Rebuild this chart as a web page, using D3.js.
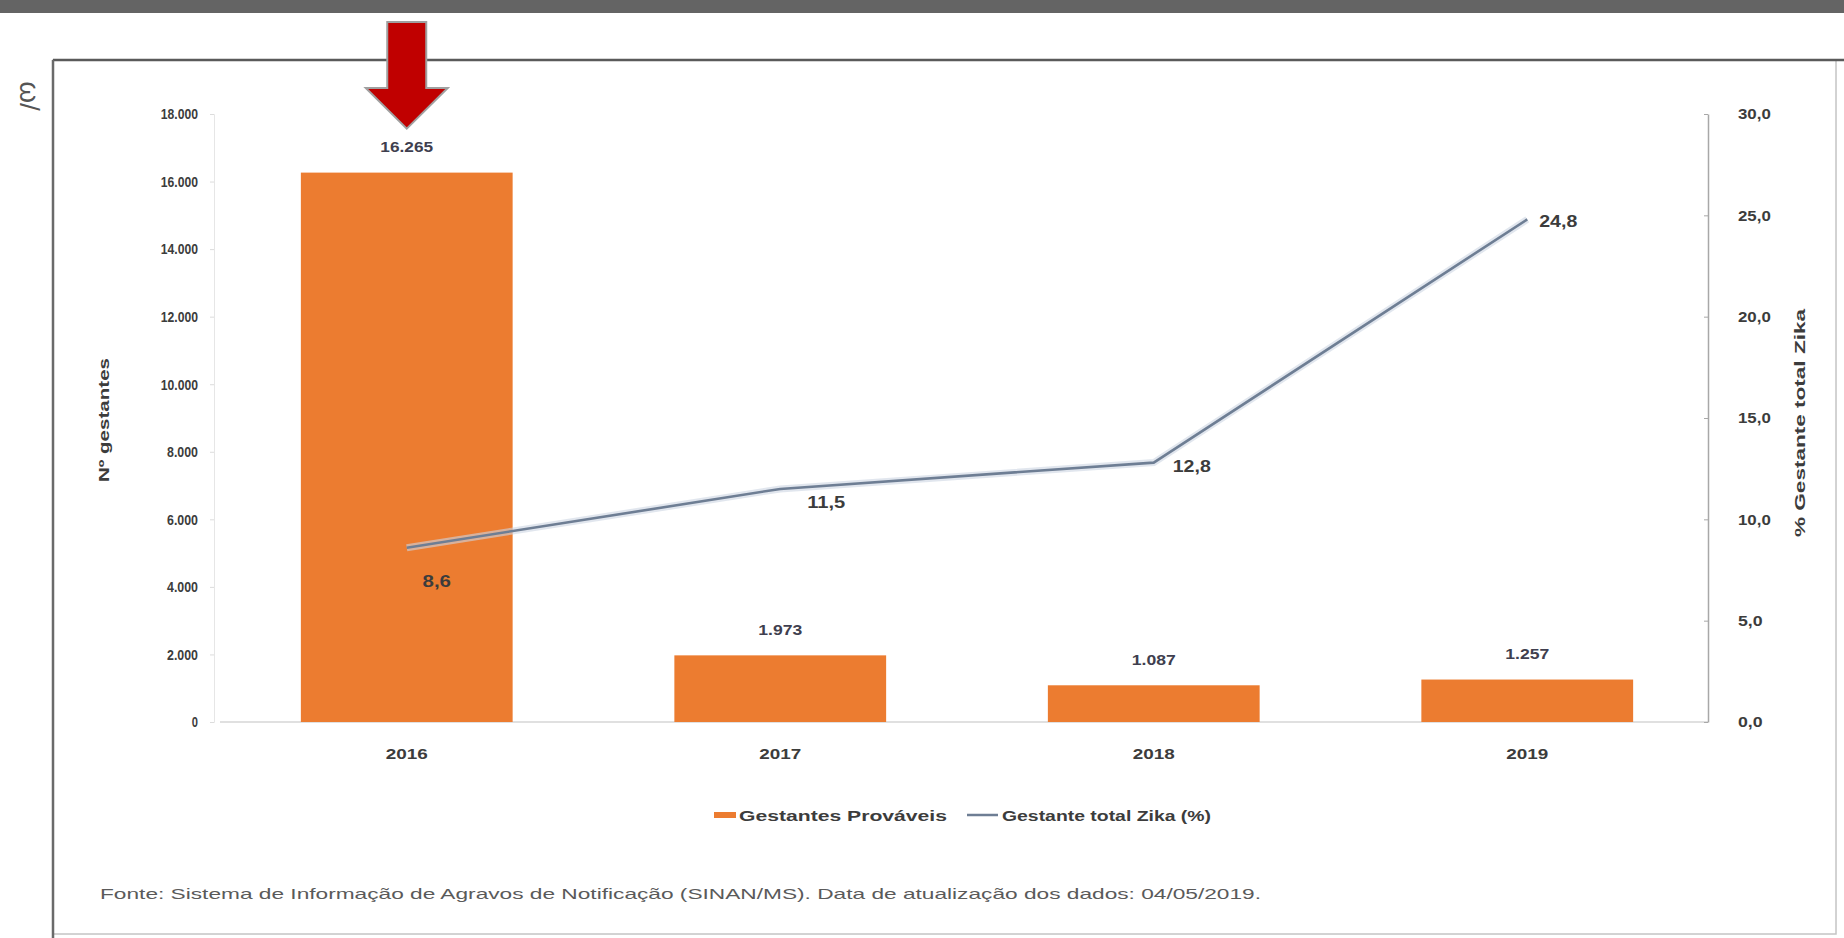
<!DOCTYPE html>
<html>
<head>
<meta charset="utf-8">
<script src="https://cdn.jsdelivr.net/npm/d3@7"></script>
<style>
  html, body { margin: 0; padding: 0; background: #ffffff; }
  svg { display: block; }
  text { font-family: "Liberation Sans Narrow", "Arial Narrow", "Liberation Sans", sans-serif; fill: #3c3c3c; }
</style>
</head>
<body>
<svg id="chart" width="1844" height="938"></svg>
<script>
// Gestantes prováveis por ano e percentual com Zika
const years = ["2016", "2017", "2018", "2019"];
const gestantes = [16265, 1973, 1087, 1257];
const pctZika = [8.6, 11.5, 12.8, 24.8];
const leftTicks = [0, 2000, 4000, 6000, 8000, 10000, 12000, 14000, 16000, 18000];
const rightTicks = [0, 5, 10, 15, 20, 25, 30];
const seriesNames = ["Gestantes Prováveis", "Gestante total Zika (%)"];
const leftTitle = "Nº gestantes";
const rightTitle = "% Gestante total Zika";
const sourceNote = "Fonte: Sistema de Informação de Agravos de Notificação (SINAN/MS). Data de atualização dos dados: 04/05/2019.";

const ptBR = d3.formatLocale({ decimal: ",", thousands: ".", grouping: [3], currency: ["R$", ""] });
const fmtInt = ptBR.format(",d");
const fmtPct = ptBR.format(",.1f");

const svg = d3.select("#chart");
const W = 1844, H = 938;

const ORANGE = "#EC7C30";
const LINE = "#6E7E94";

// condensed look: squeeze each label to a width proportional to its length
function squeeze(sel, perChar) {
  sel.attr("textLength", function () { return this.textContent.length * perChar; })
     .attr("lengthAdjust", "spacingAndGlyphs");
}

// page chrome: dark strip and frame
svg.append("rect").attr("x", 0).attr("y", 0).attr("width", W).attr("height", 13).attr("fill", "#646464");
svg.append("rect").attr("x", 53).attr("y", 60).attr("width", 1783).attr("height", 874)
  .attr("fill", "none").attr("stroke", "#c4c4c4").attr("stroke-width", 1.5);
svg.append("line").attr("x1", 53).attr("x2", W).attr("y1", 60).attr("y2", 60)
  .attr("stroke", "#5a5a5a").attr("stroke-width", 2.5);
svg.append("line").attr("x1", 53).attr("x2", 53).attr("y1", 60).attr("y2", H)
  .attr("stroke", "#6a6a6a").attr("stroke-width", 2.5);
svg.append("text").attr("transform", "translate(29,96) rotate(90)")
  .attr("text-anchor", "middle").attr("dominant-baseline", "central")
  .style("font-size", "28px").style("fill", "#555").text("ω/");

// scales
const x = d3.scaleBand().domain(years).range([220, 1714]).paddingInner(0.433).paddingOuter(0.2165);
const yL = d3.scaleLinear().domain([0, 18000]).range([722, 114]);
const yR = d3.scaleLinear().domain([0, 30]).range([722, 114]);

// baseline
svg.append("line").attr("x1", 220).attr("x2", 1708).attr("y1", yL(0)).attr("y2", yL(0))
  .attr("stroke", "#d6d6d6").attr("stroke-width", 1.5);

// left axis
const axL = svg.append("g").attr("transform", "translate(214,0)")
  .call(d3.axisLeft(yL).tickValues(leftTicks).tickFormat(fmtInt).tickSize(4).tickPadding(12));
axL.select(".domain").attr("stroke", "#e6e6e6");
axL.selectAll(".tick line").attr("stroke", "#dcdcdc");
axL.selectAll("text").style("font-size", "15px").style("font-weight", "bold").style("fill", "#3c3c3c")
  .call(squeeze, 6.2);

// right axis
const axR = svg.append("g").attr("transform", "translate(1708,0)")
  .call(d3.axisRight(yR).tickValues(rightTicks).tickFormat(fmtPct).tickSize(0).tickPadding(30));
axR.select(".domain").attr("stroke", "#a8a8a8").attr("stroke-width", 1.5);
axR.selectAll(".tick").append("line").attr("x1", -4).attr("x2", 0).attr("stroke", "#a8a8a8");
axR.selectAll("text").style("font-size", "15px").style("font-weight", "bold").style("fill", "#3c3c3c")
  .call(squeeze, 8.2);

// x axis
const axX = svg.append("g").attr("transform", `translate(0,${yL(0)})`)
  .call(d3.axisBottom(x).tickSize(0).tickPadding(26));
axX.select(".domain").remove();
axX.selectAll("text").style("font-size", "15px").style("font-weight", "bold").style("fill", "#3c3c3c")
  .call(squeeze, 10.5);

// axis titles
svg.append("text").attr("transform", "translate(103,420) rotate(-90)")
  .attr("text-anchor", "middle").attr("dominant-baseline", "central")
  .attr("textLength", 124).attr("lengthAdjust", "spacingAndGlyphs")
  .style("font-size", "15px").style("font-weight", "bold").text(leftTitle);
svg.append("text").attr("transform", "translate(1799,423) rotate(-90)")
  .attr("text-anchor", "middle").attr("dominant-baseline", "central")
  .attr("textLength", 228).attr("lengthAdjust", "spacingAndGlyphs")
  .style("font-size", "15px").style("font-weight", "bold").text(rightTitle);

// bars
svg.append("g").selectAll("rect").data(years).join("rect")
  .attr("x", d => x(d)).attr("width", x.bandwidth())
  .attr("y", (d, i) => yL(gestantes[i]))
  .attr("height", (d, i) => yL(0) - yL(gestantes[i]))
  .attr("fill", ORANGE);

// bar value labels
svg.append("g").selectAll("text").data(years).join("text")
  .attr("x", d => x(d) + x.bandwidth() / 2)
  .attr("y", (d, i) => yL(gestantes[i]) - 26)
  .attr("text-anchor", "middle").attr("dominant-baseline", "central")
  .style("font-size", "15px").style("font-weight", "bold").style("fill", "#3f3f4f")
  .text((d, i) => fmtInt(gestantes[i]))
  .call(squeeze, 8.8);

// percentage line
const pts = years.map((d, i) => [x(d) + x.bandwidth() / 2, yR(pctZika[i])]);
svg.append("path").attr("d", d3.line()(pts)).attr("fill", "none")
  .attr("stroke", "#cdd6e2").attr("stroke-width", 7).attr("stroke-opacity", 0.6);
svg.append("path").attr("d", d3.line()(pts)).attr("fill", "none")
  .attr("stroke", LINE).attr("stroke-width", 2.6).attr("stroke-linejoin", "round");

// line value labels (right of each point; first one sits lower inside the bar)
const lblDx = [30, 46, 38, 31];
const lblDy = [34, 14, 4, 2];
svg.append("g").selectAll("text").data(years).join("text")
  .attr("x", (d, i) => pts[i][0] + lblDx[i])
  .attr("y", (d, i) => pts[i][1] + lblDy[i])
  .attr("text-anchor", "middle").attr("dominant-baseline", "central")
  .style("font-size", "16px").style("font-weight", "bold").style("fill", "#3c3c3c")
  .text((d, i) => fmtPct(pctZika[i]))
  .call(squeeze, 9.5);

// highlight arrow above the first bar
const ax0 = x(years[0]) + x.bandwidth() / 2;
const tipY = yL(gestantes[0]) - 44;
const arrow = d3.path();
arrow.moveTo(ax0 - 19.5, 22);
arrow.lineTo(ax0 + 19.5, 22);
arrow.lineTo(ax0 + 19.5, 88);
arrow.lineTo(ax0 + 41, 88);
arrow.lineTo(ax0, tipY);
arrow.lineTo(ax0 - 41, 88);
arrow.lineTo(ax0 - 19.5, 88);
arrow.closePath();
svg.append("path").attr("d", arrow.toString()).attr("fill", "#C00000")
  .attr("stroke", "#a0a0a0").attr("stroke-width", 2).attr("stroke-linejoin", "miter");

// legend
const lg = svg.append("g");
lg.append("rect").attr("x", 714).attr("y", 812).attr("width", 22).attr("height", 6).attr("fill", ORANGE);
lg.append("text").attr("x", 739).attr("y", 815).attr("dominant-baseline", "central")
  .attr("textLength", 208).attr("lengthAdjust", "spacingAndGlyphs")
  .style("font-size", "15px").style("font-weight", "bold").text(seriesNames[0]);
lg.append("line").attr("x1", 967).attr("x2", 998).attr("y1", 815).attr("y2", 815)
  .attr("stroke", LINE).attr("stroke-width", 2.5);
lg.append("text").attr("x", 1002).attr("y", 815).attr("dominant-baseline", "central")
  .attr("textLength", 209).attr("lengthAdjust", "spacingAndGlyphs")
  .style("font-size", "15px").style("font-weight", "bold").text(seriesNames[1]);

// source note
svg.append("text").attr("x", 100).attr("y", 893).attr("dominant-baseline", "central")
  .attr("textLength", 1161).attr("lengthAdjust", "spacingAndGlyphs")
  .style("font-size", "15px").style("fill", "#5a5a5a").text(sourceNote);
</script>
</body>
</html>
